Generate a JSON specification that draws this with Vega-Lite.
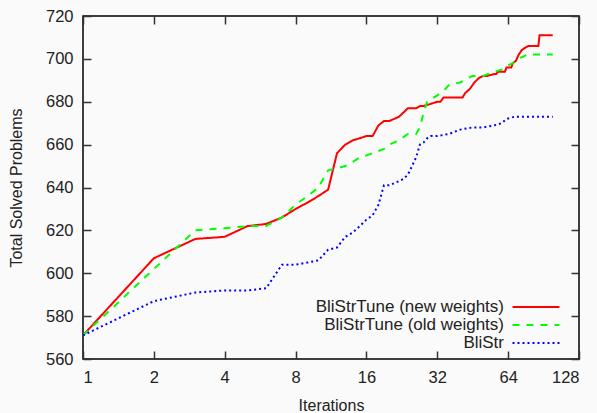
{
  "$schema": "https://vega.github.io/schema/vega-lite/v6.json",
  "width": 496,
  "height": 343,
  "autosize": {"type": "none"},
  "padding": {"left": 83, "top": 16, "right": 18, "bottom": 54},
  "background": "#fafafa",
  "config": {
    "font": "Liberation Sans",
    "view": {"stroke": "#000", "strokeWidth": 1.5},
    "axis": {
      "labelFont": "Liberation Sans", "labelFontSize": 16.5, "titleFont": "Liberation Sans", "titleFontSize": 16,
      "titleFontWeight": "normal", "labelColor": "#222", "titleColor": "#222",
      "tickColor": "#333", "tickWidth": 1.5, "tickSize": -8, "domain": false, "grid": false, "labelPadding": 18
    },
    "legend": {
      "orient": "none", "legendX": 444.5, "legendY": 282.5, "title": null, "labelAlign": "right", "labelOffset": -40.5,
      "symbolType": "M-4,0H4", "symbolSize": 138, "symbolStrokeWidth": 2, "labelFontSize": 17, "labelFont": "Liberation Sans",
      "labelColor": "#222", "rowPadding": 0, "labelLimit": 400, "padding": 0
    }
  },
  "data": {"values": [
    {"s":"BliStrTune (new weights)","i":1,"v":571},{"s":"BliStrTune (new weights)","i":2,"v":607},{"s":"BliStrTune (new weights)","i":3,"v":616},{"s":"BliStrTune (new weights)","i":4,"v":617},{"s":"BliStrTune (new weights)","i":5,"v":622},{"s":"BliStrTune (new weights)","i":6,"v":623},{"s":"BliStrTune (new weights)","i":7,"v":626},{"s":"BliStrTune (new weights)","i":8,"v":630},{"s":"BliStrTune (new weights)","i":9,"v":633},{"s":"BliStrTune (new weights)","i":10,"v":636},{"s":"BliStrTune (new weights)","i":11,"v":639},{"s":"BliStrTune (new weights)","i":12,"v":656},{"s":"BliStrTune (new weights)","i":13,"v":660},{"s":"BliStrTune (new weights)","i":14,"v":662},{"s":"BliStrTune (new weights)","i":15,"v":663},{"s":"BliStrTune (new weights)","i":16,"v":664},{"s":"BliStrTune (new weights)","i":17,"v":664},{"s":"BliStrTune (new weights)","i":18,"v":669},{"s":"BliStrTune (new weights)","i":19,"v":671},{"s":"BliStrTune (new weights)","i":20,"v":671},{"s":"BliStrTune (new weights)","i":21,"v":672},{"s":"BliStrTune (new weights)","i":22,"v":673},{"s":"BliStrTune (new weights)","i":23,"v":675},{"s":"BliStrTune (new weights)","i":24,"v":677},{"s":"BliStrTune (new weights)","i":26,"v":677},{"s":"BliStrTune (new weights)","i":27,"v":678},{"s":"BliStrTune (new weights)","i":28,"v":678},{"s":"BliStrTune (new weights)","i":30,"v":679},{"s":"BliStrTune (new weights)","i":32,"v":680},{"s":"BliStrTune (new weights)","i":33,"v":680},{"s":"BliStrTune (new weights)","i":34,"v":682},{"s":"BliStrTune (new weights)","i":41,"v":682},{"s":"BliStrTune (new weights)","i":42,"v":684},{"s":"BliStrTune (new weights)","i":44,"v":686},{"s":"BliStrTune (new weights)","i":46,"v":689},{"s":"BliStrTune (new weights)","i":48,"v":691},{"s":"BliStrTune (new weights)","i":50,"v":692},{"s":"BliStrTune (new weights)","i":52,"v":692},{"s":"BliStrTune (new weights)","i":56,"v":693},{"s":"BliStrTune (new weights)","i":57,"v":693},{"s":"BliStrTune (new weights)","i":58,"v":694},{"s":"BliStrTune (new weights)","i":62,"v":694},{"s":"BliStrTune (new weights)","i":63,"v":696},{"s":"BliStrTune (new weights)","i":66,"v":696},{"s":"BliStrTune (new weights)","i":67,"v":698},{"s":"BliStrTune (new weights)","i":69,"v":699},{"s":"BliStrTune (new weights)","i":71,"v":702},{"s":"BliStrTune (new weights)","i":73,"v":704},{"s":"BliStrTune (new weights)","i":75,"v":705},{"s":"BliStrTune (new weights)","i":78,"v":706},{"s":"BliStrTune (new weights)","i":86,"v":706},{"s":"BliStrTune (new weights)","i":87,"v":711},{"s":"BliStrTune (new weights)","i":99,"v":711},
    {"s":"BliStrTune (old weights)","i":1,"v":571},{"s":"BliStrTune (old weights)","i":2,"v":602},{"s":"BliStrTune (old weights)","i":3,"v":620},{"s":"BliStrTune (old weights)","i":4,"v":621},{"s":"BliStrTune (old weights)","i":5,"v":622},{"s":"BliStrTune (old weights)","i":6,"v":622},{"s":"BliStrTune (old weights)","i":7,"v":626},{"s":"BliStrTune (old weights)","i":8,"v":632},{"s":"BliStrTune (old weights)","i":9,"v":636},{"s":"BliStrTune (old weights)","i":10,"v":640},{"s":"BliStrTune (old weights)","i":11,"v":648},{"s":"BliStrTune (old weights)","i":12,"v":649},{"s":"BliStrTune (old weights)","i":13,"v":650},{"s":"BliStrTune (old weights)","i":14,"v":652},{"s":"BliStrTune (old weights)","i":15,"v":654},{"s":"BliStrTune (old weights)","i":16,"v":655},{"s":"BliStrTune (old weights)","i":17,"v":656},{"s":"BliStrTune (old weights)","i":18,"v":657},{"s":"BliStrTune (old weights)","i":19,"v":658},{"s":"BliStrTune (old weights)","i":20,"v":660},{"s":"BliStrTune (old weights)","i":22,"v":662},{"s":"BliStrTune (old weights)","i":24,"v":665},{"s":"BliStrTune (old weights)","i":26,"v":665},{"s":"BliStrTune (old weights)","i":27,"v":668},{"s":"BliStrTune (old weights)","i":28,"v":675},{"s":"BliStrTune (old weights)","i":29,"v":680},{"s":"BliStrTune (old weights)","i":30,"v":681},{"s":"BliStrTune (old weights)","i":32,"v":683},{"s":"BliStrTune (old weights)","i":34,"v":685},{"s":"BliStrTune (old weights)","i":36,"v":688},{"s":"BliStrTune (old weights)","i":40,"v":689},{"s":"BliStrTune (old weights)","i":45,"v":692},{"s":"BliStrTune (old weights)","i":50,"v":692},{"s":"BliStrTune (old weights)","i":56,"v":694},{"s":"BliStrTune (old weights)","i":60,"v":695},{"s":"BliStrTune (old weights)","i":64,"v":697},{"s":"BliStrTune (old weights)","i":67,"v":698},{"s":"BliStrTune (old weights)","i":70,"v":700},{"s":"BliStrTune (old weights)","i":74,"v":701},{"s":"BliStrTune (old weights)","i":77,"v":702},{"s":"BliStrTune (old weights)","i":99,"v":702},
    {"s":"BliStr","i":1,"v":571},{"s":"BliStr","i":2,"v":587},{"s":"BliStr","i":3,"v":591},{"s":"BliStr","i":4,"v":592},{"s":"BliStr","i":5,"v":592},{"s":"BliStr","i":6,"v":593},{"s":"BliStr","i":7,"v":604},{"s":"BliStr","i":8,"v":604},{"s":"BliStr","i":9,"v":605},{"s":"BliStr","i":10,"v":606},{"s":"BliStr","i":11,"v":611},{"s":"BliStr","i":12,"v":612},{"s":"BliStr","i":13,"v":617},{"s":"BliStr","i":14,"v":619},{"s":"BliStr","i":15,"v":622},{"s":"BliStr","i":16,"v":625},{"s":"BliStr","i":17,"v":627},{"s":"BliStr","i":18,"v":632},{"s":"BliStr","i":19,"v":641},{"s":"BliStr","i":20,"v":641},{"s":"BliStr","i":21,"v":642},{"s":"BliStr","i":22,"v":643},{"s":"BliStr","i":23,"v":644},{"s":"BliStr","i":24,"v":646},{"s":"BliStr","i":25,"v":650},{"s":"BliStr","i":26,"v":654},{"s":"BliStr","i":27,"v":660},{"s":"BliStr","i":28,"v":661},{"s":"BliStr","i":29,"v":663},{"s":"BliStr","i":30,"v":664},{"s":"BliStr","i":32,"v":664},{"s":"BliStr","i":36,"v":665},{"s":"BliStr","i":40,"v":667},{"s":"BliStr","i":45,"v":668},{"s":"BliStr","i":50,"v":668},{"s":"BliStr","i":56,"v":669},{"s":"BliStr","i":60,"v":670},{"s":"BliStr","i":63,"v":672},{"s":"BliStr","i":68,"v":673},{"s":"BliStr","i":99,"v":673}
  ]},
  "layer": [
    {
      "mark": {"type": "line", "strokeWidth": 2, "clip": true},
      "encoding": {
        "x": {"field": "i", "type": "quantitative",
          "scale": {"type": "log", "base": 2, "domain": [1, 128]},
          "axis": {"orient": "bottom", "values": [1, 2, 4, 8, 16, 32, 64, 128], "format": "d", "title": "Iterations", "titlePadding": 12}},
        "y": {"field": "v", "type": "quantitative",
          "scale": {"domain": [560, 720], "nice": false, "zero": false},
          "axis": {"orient": "left", "values": [560, 580, 600, 620, 640, 660, 680, 700, 720], "title": "Total Solved Problems", "titlePadding": 21}},
        "color": {"field": "s", "type": "nominal",
          "scale": {"domain": ["BliStrTune (new weights)", "BliStrTune (old weights)", "BliStr"], "range": ["#ff0000", "#00ff00", "#0000ff"]},
          "legend": {"title": null}},
        "strokeDash": {"field": "s", "type": "nominal",
          "scale": {"domain": ["BliStrTune (new weights)", "BliStrTune (old weights)", "BliStr"], "range": [[1, 0], [7, 7], [2, 3]]},
          "legend": {"title": null}}
      }
    },
    {
      "mark": {"type": "line", "opacity": 0},
      "encoding": {
        "x": {"field": "i", "type": "quantitative",
          "scale": {"type": "log", "base": 2, "domain": [1, 128]},
          "axis": {"orient": "top", "values": [1, 2, 4, 8, 16, 32, 64, 128], "labels": false, "title": null}},
        "y": {"field": "v", "type": "quantitative",
          "scale": {"domain": [560, 720], "nice": false, "zero": false},
          "axis": {"orient": "right", "values": [560, 580, 600, 620, 640, 660, 680, 700, 720], "labels": false, "title": null}},
        "detail": {"field": "s", "type": "nominal"}
      }
    }
  ],
  "resolve": {"axis": {"x": "independent", "y": "independent"}}
}
